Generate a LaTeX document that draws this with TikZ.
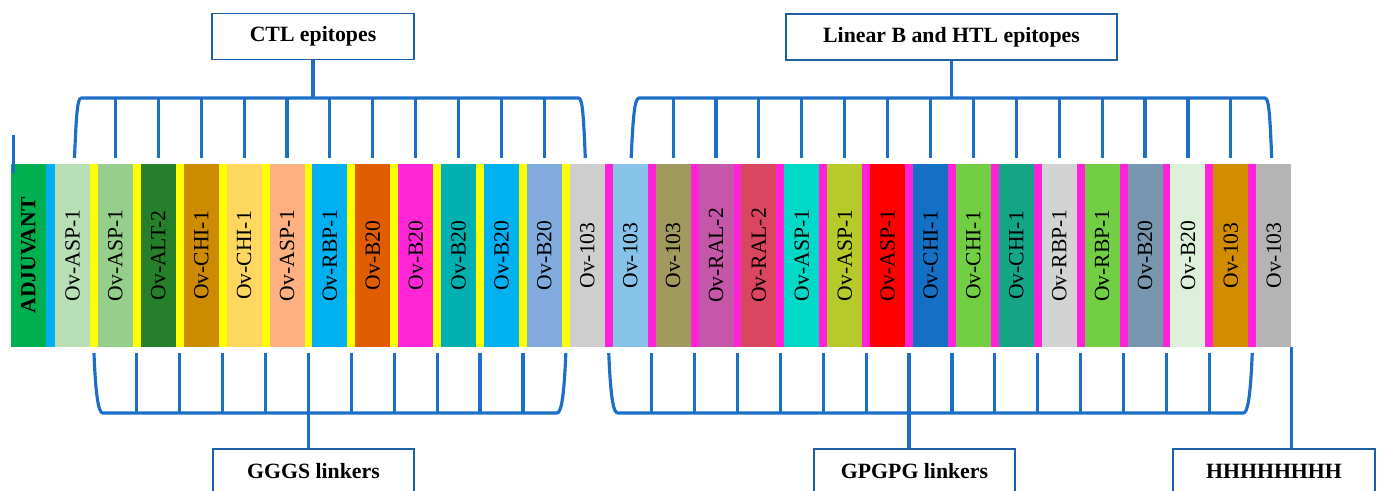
\documentclass[tikz,border=0pt]{standalone}
\usepackage{fontspec}
\setmainfont{Liberation Serif}
\usetikzlibrary{calc}
\definecolor{braceblue}{HTML}{1B6FC8}
\definecolor{boxblue}{HTML}{1F5FA5}
\definecolor{linkyellow}{HTML}{FFFF00}
\definecolor{linkpink}{HTML}{FF22D6}
\definecolor{linkcyan}{HTML}{00B0F0}
\definecolor{adjgreen}{HTML}{00B050}
\tikzset{
  seg/.style={rotate=90, minimum width=3.66cm, minimum height=0.7cm, inner sep=0pt,
    font=\fontsize{12.3}{14}\selectfont},
  linker/.style={minimum width=0.158cm, minimum height=3.66cm, inner sep=0pt},
  brace/.style={draw=braceblue, line width=1.8pt},
  labelbox/.style={draw=boxblue, line width=1.1pt, fill=white, inner sep=0pt,
    minimum width=4.03cm, minimum height=0.92cm, font=\bfseries\fontsize{12.4}{15}\selectfont}
}
\begin{document}
\begin{tikzpicture}[x=0.02cm, y=-0.02cm]
  \useasboundingbox (0,0) rectangle (1378,490);
  \clip (0,0) rectangle (1378,490);
  \coordinate (toprail) at (0,98);
  \coordinate (toptip)  at (0,158);
  \coordinate (bottip)  at (0,353);
  \coordinate (botrail) at (0,413);

  \node[linker, fill=linkcyan, minimum width=0.18cm] (k0) at (50.5,255.5) {};
  \foreach \i in {1,...,28} {
    \ifnum\i<13 \def\lc{linkyellow}\else \def\lc{linkpink}\fi
    \node[linker, fill=\lc] (k\i) at ({93.95+(\i-1)*42.9},255.5) {};
  }
  \node[seg, fill=adjgreen, font=\bfseries\fontsize{12.3}{14}\selectfont] (adj) at (28.5,255.5) {ADJUVANT};
  \foreach \lab/\col [count=\i] in {
    Ov-ASP-1/B9DFB7, Ov-ASP-1/96CE8B, Ov-ALT-2/267F2A, Ov-CHI-1/CC8B00,
    Ov-CHI-1/FFD75E, Ov-ASP-1/FFB081, Ov-RBP-1/00B0F0, Ov-B20/E05C00,
    Ov-B20/FF26D6, Ov-B20/00B0B0, Ov-B20/00B0F0, Ov-B20/80ABDC,
    Ov-103/CECECE, Ov-103/87C2E8, Ov-103/A09A5E, Ov-RAL-2/C557A8,
    Ov-RAL-2/DA4660, Ov-ASP-1/00D8C8, Ov-ASP-1/B6CA2A, Ov-ASP-1/FF0000,
    Ov-CHI-1/1470C5, Ov-CHI-1/72CF44, Ov-CHI-1/14A486, Ov-RBP-1/D3D3D3,
    Ov-RBP-1/72CF44, Ov-B20/7896AF, Ov-B20/DDF0D9, Ov-103/D18C00, Ov-103/B4B4B4} {
    \definecolor{segfill}{HTML}{\col}
    \node[seg, fill=segfill] (b\i) at ({72.5+(\i-1)*42.9},255.5) {\lab};
  }

  \node[labelbox] (ctl) at (313,36.5) {CTL epitopes};
  \node[labelbox, minimum width=6.62cm] (htl) at (951.5,37) {Linear B and HTL epitopes};
  \node[labelbox, minimum height=0.88cm] (gggs) at (313.5,471) {GGGS linkers};
  \node[labelbox, minimum height=0.88cm] (gpgpg) at (914.5,471) {GPGPG linkers};
  \node[labelbox, minimum height=0.88cm] (his) at (1274,471) {HHHHHHHH};

  \draw[brace] ($(adj.north east)+(3,-29)$) -- ($(adj.north east)+(3,9)$);

  \draw[brace] ($(b1 |- toptip)+(2,0)$) .. controls +(2,-48) and +(-4,0) .. ($(b1 |- toprail)+(9,0)$)
    -- ($(b13 |- toprail)+(-9,0)$) .. controls +(4,0) and +(-2,-48) .. ($(b13 |- toptip)+(-2,0)$);
  \foreach \i in {2,...,12}
    \draw[brace] (b\i |- toprail) -- (b\i |- toptip);
  \draw[brace] (ctl) -- (ctl |- toprail);

  \draw[brace] ($(b14 |- toptip)+(1,0)$) .. controls +(2,-48) and +(-4,0) .. ($(b14 |- toprail)+(9,0)$)
    -- ($(b29 |- toprail)+(-9,0)$) .. controls +(4,0) and +(-2,-48) .. ($(b29 |- toptip)+(-2,0)$);
  \foreach \i in {15,...,28}
    \draw[brace] (b\i |- toprail) -- (b\i |- toptip);
  \draw[brace] (htl) -- (htl |- toprail);

  \draw[brace] (k1 |- bottip) .. controls +(2,48) and +(-4,0) .. ($(k1 |- botrail)+(9,0)$)
    -- ($(k12 |- botrail)+(-9,0)$) .. controls +(4,0) and +(-2,48) .. (k12 |- bottip);
  \foreach \i in {2,...,11}
    \draw[brace] (k\i |- bottip) -- (k\i |- botrail);
  \draw[brace] (k6 |- botrail) -- (k6 |- gggs.north);

  \draw[brace] (k13 |- bottip) .. controls +(2,48) and +(-4,0) .. ($(k13 |- botrail)+(9,0)$)
    -- ($(k28 |- botrail)+(-9,0)$) .. controls +(4,0) and +(-2,48) .. (k28 |- bottip);
  \foreach \i in {14,...,27}
    \draw[brace] (k\i |- bottip) -- (k\i |- botrail);
  \draw[brace] (k20 |- botrail) -- (k20 |- gpgpg.north);

  \draw[brace] (b29.south west) -- (b29.south west |- his.north);
\end{tikzpicture}
\end{document}
